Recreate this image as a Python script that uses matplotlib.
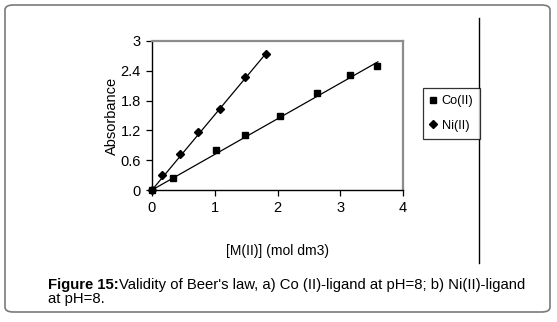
import matplotlib
matplotlib.use("Agg")
import matplotlib.pyplot as plt
from matplotlib.patches import FancyBboxPatch
from matplotlib.lines import Line2D

plt.rcParams['font.family'] = ['Liberation Sans', 'DejaVu Sans']

# Co(II) measured points
co_x = [0.0, 0.34, 1.02, 1.48, 2.04, 2.63, 3.15, 3.59]
co_y = [0.0, 0.25, 0.81, 1.11, 1.50, 1.95, 2.32, 2.50]
# Ni(II) measured points
ni_x = [0.0, 0.16, 0.44, 0.74, 1.08, 1.49, 1.81]
ni_y = [0.0, 0.30, 0.72, 1.16, 1.63, 2.27, 2.73]
# linear trendlines (end points)
co_fit_x = [0.0, 3.6]
co_fit_y = [0.0, 2.58]
ni_fit_x = [0.0, 1.81]
ni_fit_y = [0.0, 2.74]

x_ticks = [0, 1, 2, 3, 4]
y_ticks = [0, 0.6, 1.2, 1.8, 2.4, 3]
y_tick_labels = ['0', '0.6', '1.2', '1.8', '2.4', '3']

W, H = 557, 322
fig = plt.figure(figsize=(W / 100, H / 100), dpi=100)

# outer rounded frame
frame = FancyBboxPatch((5 / W, 1 - 312 / H), 545 / W, 307 / H,
                       boxstyle="round,pad=0,rounding_size=0.015",
                       transform=fig.transFigure, facecolor='none',
                       edgecolor='#7a7a7a', linewidth=1.2)
fig.patches.append(frame)

# chart area right border
fig.add_artist(Line2D([479 / W, 479 / W], [1 - 18 / H, 1 - 263 / H],
                      transform=fig.transFigure, color='black', linewidth=1.0))

ax = fig.add_axes([152 / W, 1 - 190 / H, 251 / W, 149 / H])

ax.plot(co_fit_x, co_fit_y, color='black', linewidth=0.9)
ax.plot(ni_fit_x, ni_fit_y, color='black', linewidth=0.9)
ax.plot(co_x, co_y, linestyle='none', marker='s', markersize=4.5,
        color='black', label='Co(II)', clip_on=False)
ax.plot(ni_x, ni_y, linestyle='none', marker='D', markersize=3.6,
        color='black', label='Ni(II)', clip_on=False)

ax.set_xlim(0, 4)
ax.set_ylim(0, 3)
ax.set_xticks(x_ticks)
ax.set_yticks(y_ticks)
ax.set_yticklabels(y_tick_labels)
ax.tick_params(direction='out', length=4, width=0.9, labelsize=10.5,
               pad=4, colors='black')

for s in ['left', 'bottom']:
    ax.spines[s].set_color('black')
    ax.spines[s].set_linewidth(1.0)
for s in ['top', 'right']:
    ax.spines[s].set_color('#8c8c8c')
    ax.spines[s].set_linewidth(1.6)

ax.set_xlabel('[M(II)] (mol dm3)', fontsize=10, labelpad=21)
ax.set_ylabel('Absorbance', fontsize=10.5, labelpad=1)

leg = fig.legend(handles=ax.get_lines()[2:], loc='upper left',
                 bbox_to_anchor=(423 / W, 1 - 88 / H), borderaxespad=0,
                 frameon=True, fancybox=False, fontsize=9.2,
                 handlelength=0.5, handletextpad=0.4, labelspacing=1.0,
                 borderpad=0.55)
leg.get_frame().set_edgecolor('black')
leg.get_frame().set_linewidth(0.9)

cap_size = 10.7
fig.text(48 / W, 1 - 289 / H, 'Figure 15:', fontsize=cap_size,
         fontweight='bold', ha='left', va='baseline')
fig.canvas.draw()
bb = fig.texts[0].get_window_extent()
fig.text(bb.x1 / W, 1 - 289 / H,
         "Validity of Beer's law, a) Co (II)-ligand at pH=8; b) Ni(II)-ligand",
         fontsize=cap_size, ha='left', va='baseline')
fig.text(48 / W, 1 - 303 / H, 'at pH=8.', fontsize=cap_size, ha='left',
         va='baseline')

fig.savefig('out.png', dpi=100)
